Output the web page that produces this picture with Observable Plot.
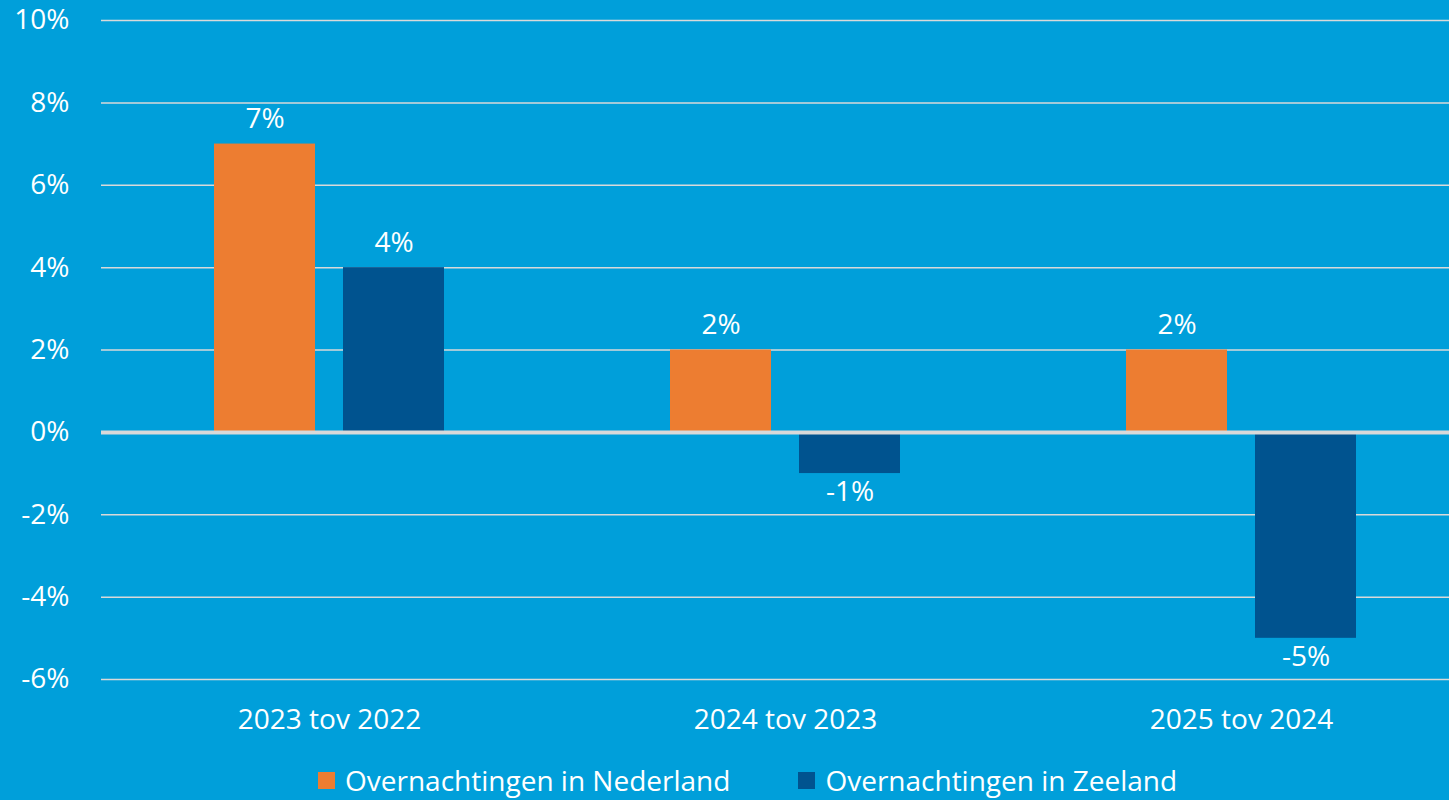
<!DOCTYPE html>
<html>
<head>
<meta charset="utf-8">
<script src="https://cdn.jsdelivr.net/npm/d3@7"></script>
<script src="https://cdn.jsdelivr.net/npm/@observablehq/plot@0.6"></script>
<style>
  html, body { margin: 0; padding: 0; background: #009FDA; overflow: hidden; }
  #chart { width: 1449px; height: 750px; overflow: hidden; }
  #legend { display: flex; align-items: center; margin-left: 318px; height: 50px; font-family: "Open Sans", Lato, sans-serif; font-size: 28px; color: #fff; margin-top: 5px; }
  .item { display: flex; align-items: center; }
  .sw { width: 17px; height: 17px; margin-right: 10px; }
</style>
</head>
<body>
<div id="chart"></div>
<div id="legend"></div>
<script>
const categories = ["2023 tov 2022", "2024 tov 2023", "2025 tov 2024"];
const series = ["Overnachtingen in Nederland", "Overnachtingen in Zeeland"];
const nederland = [7, 2, 2];
const zeeland = [4, -1, -5];
const colors = ["#ED7D31", "#00538F"];
const yTicks = [-6, -4, -2, 0, 2, 4, 6, 8, 10];

const data = [];
categories.forEach((c, i) => {
  data.push({cat: c, series: series[0], value: nederland[i]});
  data.push({cat: c, series: series[1], value: zeeland[i]});
});

const font = "'Open Sans', Lato, sans-serif";
const chart = Plot.plot({
  width: 1449,
  height: 750,
  marginLeft: 100,
  marginRight: 0,
  marginTop: 20,
  marginBottom: 71,
  style: {background: "#009FDA", color: "#fff", fontFamily: font, fontSize: "28px", overflow: "hidden"},
  fx: {domain: categories, range: [100, 1469], padding: 0, label: null, axis: null},
  x: {domain: series, paddingInner: 0.2154, paddingOuter: 0.8627, axis: null},
  y: {domain: [-6, 10], label: null, axis: null},
  color: {domain: series, range: colors},
  marks: [
    Plot.ruleY(yTicks.filter(d => d !== 0), {stroke: "#D9D9D9", strokeWidth: 1.5, strokeOpacity: 1}),
    Plot.barY(data, {fx: "cat", x: "series", y: "value", fill: "series"}),
    Plot.ruleY([0], {stroke: "#D9D9D9", strokeWidth: 4}),
    Plot.text(data, {filter: d => d.value >= 0, fx: "cat", x: "series", y: "value", text: d => d.value + "%",
      lineAnchor: "bottom", dy: -16, fill: "#fff", fontSize: 28}),
    Plot.text(data, {filter: d => d.value < 0, fx: "cat", x: "series", y: "value", text: d => d.value + "%",
      lineAnchor: "top", dy: 8, fill: "#fff", fontSize: 28}),
    Plot.axisY({ticks: yTicks, tickFormat: d => d + "%", tickSize: 0, tickPadding: 32, fontSize: 28, fill: "#fff", label: null}),
    Plot.axisFx({anchor: "bottom", tickSize: 0, tickPadding: 30, fontSize: 28, fill: "#fff", label: null})
  ]
});
document.getElementById("chart").appendChild(chart);

const leg = document.getElementById("legend");
series.forEach((s, i) => {
  const item = document.createElement("div");
  item.className = "item";
  if (i > 0) item.style.marginLeft = "68px";
  const sw = document.createElement("div");
  sw.className = "sw";
  sw.style.background = colors[i];
  const t = document.createElement("span");
  t.textContent = s;
  item.appendChild(sw); item.appendChild(t);
  leg.appendChild(item);
});
</script>
</body>
</html>
